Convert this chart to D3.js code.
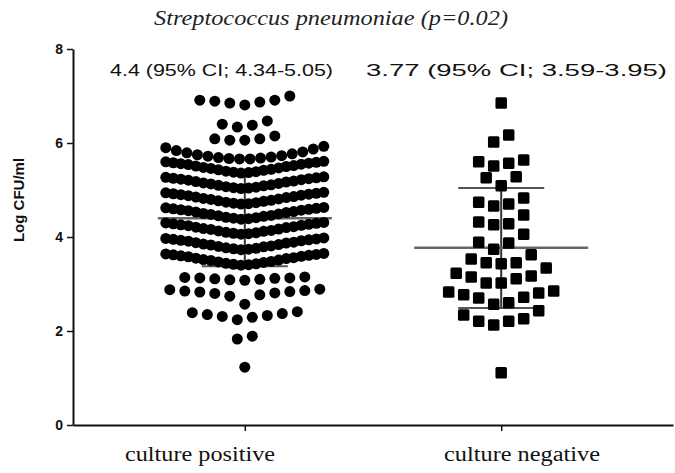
<!DOCTYPE html>
<html>
<head>
<meta charset="utf-8">
<script src="https://cdn.jsdelivr.net/npm/d3@7"></script>
<style>
  html, body { margin: 0; padding: 0; background: #fff; }
  svg { display: block; }
</style>
</head>
<body>
<svg id="chart" width="675" height="473"></svg>
<script>
// ---------------- data ----------------
const categories = ["culture positive", "culture negative"];
const yTicks = [0, 2, 4, 6, 8];
const titleText = "Streptococcus pneumoniae (p=0.02)";
const annotations = ["4.4 (95% CI; 4.34-5.05)", "3.77 (95% CI; 3.59-3.95)"];
const means = [4.4, 3.77];
const lowerBars = [3.38, 2.49];
const upperBars = [5.42, 5.04];

// culture positive: values grouped by the visual rows of the dot plot
const positiveRows = [
  [6.81, 6.85, 6.87, 6.89, 6.91, 6.91, 7.00],
  [6.34, 6.38, 6.40, 6.47],
  [6.06, 6.06, 6.09, 6.09, 6.15],
  [5.66, 5.66, 5.67, 5.68, 5.69, 5.70, 5.72, 5.73, 5.75, 5.77, 5.79, 5.81, 5.84, 5.87, 5.90, 5.93],
  [5.36, 5.37, 5.38, 5.39, 5.40, 5.42, 5.43, 5.44, 5.46, 5.47, 5.48, 5.50, 5.51, 5.52, 5.54, 5.55, 5.56, 5.57, 5.58, 5.59, 5.60, 5.61],
  [5.03, 5.04, 5.05, 5.06, 5.07, 5.09, 5.10, 5.11, 5.13, 5.14, 5.15, 5.17, 5.18, 5.19, 5.21, 5.22, 5.23, 5.24, 5.25, 5.26, 5.27, 5.28],
  [4.70, 4.71, 4.72, 4.73, 4.74, 4.76, 4.77, 4.78, 4.80, 4.81, 4.82, 4.84, 4.85, 4.86, 4.88, 4.89, 4.90, 4.91, 4.92, 4.93, 4.94, 4.95],
  [4.38, 4.39, 4.40, 4.41, 4.42, 4.44, 4.45, 4.46, 4.48, 4.49, 4.50, 4.52, 4.53, 4.54, 4.56, 4.57, 4.58, 4.59, 4.60, 4.61, 4.62, 4.63],
  [4.06, 4.07, 4.08, 4.09, 4.10, 4.12, 4.13, 4.14, 4.16, 4.17, 4.18, 4.20, 4.21, 4.22, 4.24, 4.25, 4.26, 4.27, 4.28, 4.29, 4.30, 4.31],
  [3.73, 3.74, 3.75, 3.76, 3.77, 3.79, 3.80, 3.81, 3.83, 3.84, 3.85, 3.87, 3.88, 3.89, 3.91, 3.92, 3.93, 3.94, 3.95, 3.96, 3.97, 3.98],
  [3.40, 3.41, 3.42, 3.43, 3.44, 3.46, 3.47, 3.48, 3.50, 3.51, 3.52, 3.54, 3.55, 3.56, 3.58, 3.59, 3.60, 3.61, 3.62, 3.63, 3.64, 3.65],
  [3.08, 3.09, 3.10, 3.11, 3.12, 3.13, 3.13, 3.14, 3.15],
  [2.57, 2.74, 2.77, 2.80, 2.81, 2.83, 2.84, 2.85, 2.86, 2.88, 2.89],
  [2.24, 2.29, 2.31, 2.33, 2.35, 2.37, 2.39, 2.41],
  [1.83, 1.89],
  [1.23]
];

// culture negative: values grouped by the visual rows of the dot plot
const negativeRows = [
  [6.85],
  [6.02, 6.17],
  [5.51, 5.57, 5.60, 5.64],
  [5.09, 5.26, 5.28],
  [4.66, 4.70, 4.74, 4.83],
  [4.26, 4.28, 4.32, 4.47],
  [3.74, 3.87, 3.89, 4.06],
  [3.43, 3.45, 3.45, 3.53, 3.62],
  [3.02, 3.02, 3.11, 3.15, 3.17, 3.23, 3.34],
  [2.57, 2.60, 2.70, 2.72, 2.77, 2.81, 2.83, 2.85],
  [2.13, 2.21, 2.21, 2.26, 2.34, 2.43],
  [1.11]
];

// ---------------- drawing ----------------
const svg = d3.select("#chart");
const plot = { left: 73, right: 673, top: 49, bottom: 425 };

const y = d3.scaleLinear().domain([0, 8]).range([plot.bottom, plot.top]);
const x = d3.scalePoint().domain(categories).range([plot.left, plot.right]).padding(0.67);

// Prism-like row layout: sorted ascending, lowest in the centre, alternate left/right
function layoutRows(rows, cat) {
  const pts = [];
  rows.forEach(row => {
    const vals = row.slice().sort((a, b) => a - b);
    const n = vals.length;
    const spacing = n > 1 ? Math.min(15, 158 / (n - 1)) : 0;
    const slots = [];
    if (n % 2 === 1) {
      slots.push(0);
      for (let k = 1; slots.length < n; k++) { slots.push(-k); if (slots.length < n) slots.push(k); }
    } else {
      for (let k = 0.5; slots.length < n; k++) { slots.push(-k); if (slots.length < n) slots.push(k); }
    }
    vals.forEach((v, i) => pts.push({ v, cx: x(cat) + slots[i] * spacing }));
  });
  return pts;
}

// title
svg.append("text")
  .attr("x", 154).attr("y", 25)
  .attr("textLength", 354).attr("lengthAdjust", "spacingAndGlyphs")
  .style("font-family", "'Liberation Serif', 'Times New Roman', serif")
  .style("font-style", "italic")
  .style("font-size", "21px")
  .style("fill", "#222")
  .text(titleText);

// annotations
const annX = [110, 366], annW = [223, 301];
annotations.forEach((t, i) => {
  svg.append("text")
    .attr("x", annX[i]).attr("y", 76)
    .attr("textLength", annW[i]).attr("lengthAdjust", "spacingAndGlyphs")
    .style("font-family", "'Liberation Sans', Arial, sans-serif")
    .style("font-size", "16.5px")
    .style("fill", "#111")
    .text(t);
});

// y axis
const yAxis = svg.append("g")
  .attr("transform", `translate(${plot.left},0)`)
  .call(d3.axisLeft(y).tickValues(yTicks).tickSize(6).tickSizeOuter(0).tickPadding(4).tickFormat(d3.format("d")));
yAxis.select(".domain").attr("stroke", "#111").attr("stroke-width", 2);
yAxis.selectAll(".tick line").attr("stroke", "#111").attr("stroke-width", 1.5);
yAxis.selectAll(".tick text")
  .style("font-family", "'Liberation Sans', Arial, sans-serif")
  .style("font-weight", "bold").style("font-size", "14px").style("fill", "#111");

// x axis
const xAxis = svg.append("g")
  .attr("transform", `translate(0,${plot.bottom})`)
  .call(d3.axisBottom(x).tickSize(6).tickSizeOuter(0).tickFormat(""));
xAxis.select(".domain").attr("stroke", "#111").attr("stroke-width", 2);
xAxis.selectAll(".tick line").attr("stroke", "#111").attr("stroke-width", 1.5);

// category labels
const labX = [125, 444], labW = [150, 156];
categories.forEach((c, i) => {
  svg.append("text")
    .attr("x", labX[i]).attr("y", 461)
    .attr("textLength", labW[i]).attr("lengthAdjust", "spacingAndGlyphs")
    .style("font-family", "'Liberation Serif', 'Times New Roman', serif")
    .style("font-size", "20px")
    .style("fill", "#111")
    .text(c);
});

// y title
svg.append("text")
  .attr("transform", "translate(24,200) rotate(-90)")
  .attr("text-anchor", "middle")
  .style("font-family", "'Liberation Sans', Arial, sans-serif")
  .style("font-weight", "bold").style("font-size", "15px").style("fill", "#111")
  .text("Log CFU/ml");

// mean and error bars (behind the points)
const bars = svg.append("g");
categories.forEach((c, i) => {
  const cx = x(c);
  bars.append("line").attr("x1", cx).attr("x2", cx)
    .attr("y1", y(upperBars[i])).attr("y2", y(lowerBars[i]))
    .attr("stroke", "#333").attr("stroke-width", 2);
  [upperBars[i], lowerBars[i]].forEach(v => {
    bars.append("line").attr("x1", cx - 43).attr("x2", cx + 43)
      .attr("y1", y(v)).attr("y2", y(v))
      .attr("stroke", "#555").attr("stroke-width", 2);
  });
  bars.append("line").attr("x1", cx - 87).attr("x2", cx + 87)
    .attr("y1", y(means[i])).attr("y2", y(means[i]))
    .attr("stroke", "#666").attr("stroke-width", 2.5);
});

// points
const posPts = layoutRows(positiveRows, categories[0]);
svg.append("g").selectAll("circle").data(posPts).join("circle")
  .attr("cx", d => d.cx).attr("cy", d => y(d.v)).attr("r", 5.5)
  .attr("fill", "#000");

const negPts = layoutRows(negativeRows, categories[1]);
const sq = 11.5;
svg.append("g").selectAll("rect").data(negPts).join("rect")
  .attr("x", d => d.cx - sq / 2).attr("y", d => y(d.v) - sq / 2)
  .attr("width", sq).attr("height", sq).attr("rx", 1.5)
  .attr("fill", "#000");
</script>
</body>
</html>
